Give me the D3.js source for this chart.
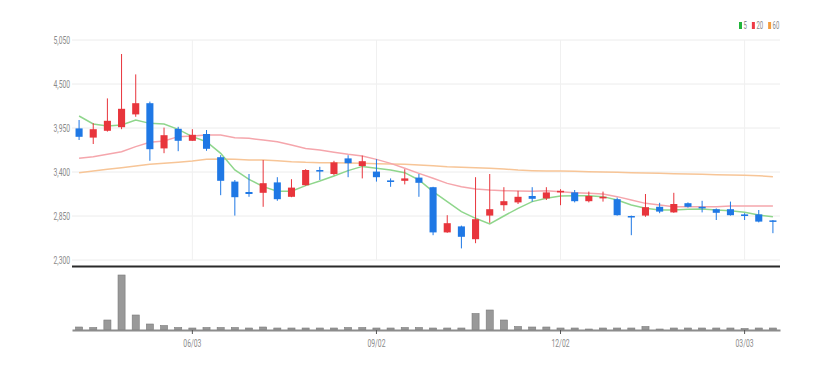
<!DOCTYPE html>
<html>
<head>
<meta charset="utf-8">
<script src="https://cdn.jsdelivr.net/npm/d3@7"></script>
<style>
body { margin: 0; background: #fff; }
#chart1 text { font-family: Roboto, sans-serif; }
</style>
</head>
<body>
<div id="chart1"></div>
<script>
var w = 834, h = 371;
var left = 72, right = 780;
var priceTop = 40, priceBottom = 260;
var volTop = 270, volBottom = 330;
var squeeze = 0.62;

// weekly candles
var dates = ["2024-04-08","2024-04-15","2024-04-22","2024-04-29","2024-05-06","2024-05-13","2024-05-20","2024-05-27",
  "2024-06-03","2024-06-10","2024-06-17","2024-06-24","2024-07-01","2024-07-08","2024-07-15","2024-07-22","2024-07-29",
  "2024-08-05","2024-08-12","2024-08-19","2024-08-26","2024-09-02","2024-09-09","2024-09-16","2024-09-23","2024-09-30",
  "2024-10-07","2024-10-14","2024-10-21","2024-10-28","2024-11-04","2024-11-11","2024-11-18","2024-11-25","2024-12-02",
  "2024-12-09","2024-12-16","2024-12-23","2024-12-30","2025-01-06","2025-01-13","2025-01-20","2025-01-27","2025-02-03",
  "2025-02-10","2025-02-17","2025-02-24","2025-03-03","2025-03-10","2025-03-17"];

var openP = [3945,3830,3915,3960,4120,4260,3695,3940,3790,3875,3585,3280,3150,3140,3270,3090,3235,3425,3375,3570,
  3475,3405,3295,3290,3330,3210,2645,2720,2560,2855,2985,3020,3100,3070,3145,3145,3035,3070,3060,2850,
  2855,2965,2895,3010,2965,2935,2935,2870,2870,2795];
var highP = [4050,4010,4320,4875,4620,4280,3955,3965,3935,3925,3610,3300,3375,3550,3335,3310,3435,3465,3540,3610,
  3605,3560,3320,3435,3375,3215,2860,2730,3335,3375,3210,3165,3210,3210,3185,3175,3155,3155,3080,2855,
  3125,3015,3140,3020,3040,2945,3030,2885,2925,2800];
var lowP = [3800,3750,3905,3935,4090,3540,3635,3660,3790,3665,3110,2855,3090,2965,3040,3085,3230,3300,3360,3335,
  3320,3280,3215,3245,3090,2610,2640,2445,2510,2765,2915,3000,3030,3050,2985,3020,3020,3030,2855,2610,
  2840,2885,2890,2955,2895,2800,2855,2800,2770,2635];
var closeP = [3840,3935,4040,4190,4260,3685,3860,3790,3865,3690,3290,3085,3125,3260,3060,3205,3425,3405,3520,3510,
  3535,3335,3275,3320,3265,2645,2760,2590,2810,2935,3035,3090,3065,3145,3165,3035,3100,3090,2860,2835,
  2960,2905,3000,2965,2945,2890,2860,2850,2780,2780];
var volume = [300,250,1000,5500,1500,600,450,250,200,250,250,250,200,300,200,200,200,200,200,250,
  250,200,200,250,250,200,200,200,1650,2000,1000,350,300,300,200,200,100,200,200,200,
  350,100,200,200,200,200,200,150,200,200];

var ma5 = [4100,4000,3975,3987,4050,4008,4000,3933,3842,3779,3633,3425,3308,3217,3160,3160,3230,3287,3350,3417,
  3470,3446,3425,3392,3300,3154,3029,2904,2821,2750,2850,2946,3030,3071,3100,3104,3104,3092,3050,2987,
  2946,2925,2925,2933,2937,2925,2917,2896,2862,2842];
var ma20 = [3571,3592,3621,3654,3717,3771,3787,3842,3850,3862,3862,3829,3821,3800,3779,3737,3695,3675,3646,3621,
  3600,3558,3508,3446,3383,3321,3258,3217,3187,3175,3167,3162,3160,3167,3154,3142,3133,3125,3092,3050,
  3008,2987,2967,2967,2967,2967,2975,2975,2975,2975];
var ma60 = [3392,3412,3433,3454,3475,3496,3508,3521,3537,3558,3562,3558,3550,3550,3542,3529,3521,3517,3515,3512,
  3508,3504,3500,3496,3487,3479,3467,3460,3454,3446,3437,3425,3417,3412,3412,3408,3404,3400,3396,3392,
  3387,3383,3379,3375,3371,3367,3362,3358,3354,3342];

var tickDates = ["2024-06-03","2024-09-02","2024-12-02","2025-03-03"];
var tickLabels = ["06/03","09/02","12/02","03/03"];
var priceTicks = [2300,2850,3400,3950,4500,5050];
var maNames = ["5","20","60"];
var maColors = ["#8fd68c","#f5a6ac","#f7c597"];
var legendColors = ["#22b53b","#ee3a45","#f39c3c"];

var upColor = "#e8353c", downColor = "#1f78e5";

draw();

function draw() {
  var svg = d3.select("#chart1").append("svg").attr("width", w).attr("height", h);

  var x = d3.scaleBand().domain(dates).range([left, right]).paddingInner(0.5).paddingOuter(0.25);
  var y = d3.scaleLinear().domain([2300, 5050]).range([priceBottom, priceTop]);
  var yv = d3.scaleLinear().domain([0, 6000]).range([volBottom, volTop]);
  var bw = x.bandwidth();
  var cx = function (d) { return x(d) + bw / 2; };

  // grid
  svg.append("g").selectAll("line").data(priceTicks).enter().append("line")
    .attr("x1", left).attr("x2", right).attr("y1", y).attr("y2", y)
    .attr("stroke", "#ececec").attr("stroke-width", 1);
  svg.append("g").selectAll("line").data(tickDates).enter().append("line")
    .attr("x1", cx).attr("x2", cx).attr("y1", priceTop).attr("y2", priceBottom)
    .attr("stroke", "#f0f0f0").attr("stroke-width", 1);

  // y axis
  var ya = svg.append("g").attr("transform", "translate(" + left + ",0)")
    .call(d3.axisLeft(y).tickValues(priceTicks).tickFormat(d3.format(",")).tickSize(0).tickPadding(3));
  ya.select(".domain").remove();
  ya.selectAll("text").attr("fill", "#8a8a8a").style("font-size", "11px")
    .attr("transform", "scale(" + squeeze + ",1)");

  // moving averages
  var series = [ma5, ma20, ma60];
  var line = d3.line().x(function (d, i) { return cx(dates[i]); }).y(function (d) { return y(d); });
  svg.append("g").selectAll("path").data(series.slice().reverse()).enter().append("path")
    .attr("d", line).attr("fill", "none")
    .attr("stroke", function (d, i) { return maColors[2 - i]; }).attr("stroke-width", 1.5);

  // candles
  var idx = d3.range(dates.length);
  var candles = svg.append("g").selectAll("g").data(idx).enter().append("g");
  var col = function (i) { return closeP[i] >= openP[i] ? upColor : downColor; };
  candles.append("line")
    .attr("x1", function (i) { return cx(dates[i]); }).attr("x2", function (i) { return cx(dates[i]); })
    .attr("y1", function (i) { return y(highP[i]); }).attr("y2", function (i) { return y(lowP[i]); })
    .attr("stroke", col).attr("stroke-width", 1);
  candles.append("rect")
    .attr("x", function (i) { return x(dates[i]); }).attr("width", bw)
    .attr("y", function (i) { return y(Math.max(openP[i], closeP[i])); })
    .attr("height", function (i) { return Math.max(1.5, Math.abs(y(openP[i]) - y(closeP[i]))); })
    .attr("fill", col);

  // separator
  svg.append("line").attr("x1", left).attr("x2", right).attr("y1", 266.5).attr("y2", 266.5)
    .attr("stroke", "#2a2a2a").attr("stroke-width", 2);

  // volume
  svg.append("g").selectAll("rect").data(idx).enter().append("rect")
    .attr("x", function (i) { return x(dates[i]); }).attr("width", bw)
    .attr("y", function (i) { return yv(volume[i]); })
    .attr("height", function (i) { return volBottom - yv(volume[i]); })
    .attr("fill", "#999").attr("stroke", "#7a7a7a").attr("stroke-width", 0.6);

  var xa = svg.append("g").attr("transform", "translate(0," + volBottom + ")")
    .call(d3.axisBottom(x).tickValues(tickDates)
      .tickFormat(function (d) { return tickLabels[tickDates.indexOf(d)]; })
      .tickSize(4).tickSizeOuter(0).tickPadding(5));
  xa.select(".domain").attr("stroke", "#8c8c8c").attr("stroke-width", 2);
  xa.selectAll(".tick line").attr("stroke", "#555");
  xa.selectAll("text").attr("fill", "#8a8a8a").style("font-size", "11px")
    .attr("transform", "scale(" + squeeze + ",1)");

  // legend
  var lx = 739;
  var legend = svg.append("g");
  maNames.forEach(function (name, i) {
    legend.append("rect").attr("x", lx).attr("y", 22).attr("width", 3).attr("height", 7)
      .attr("fill", legendColors[i]);
    lx += 4.5;
    var t = legend.append("text").attr("x", 0).attr("y", 29)
      .attr("transform", "translate(" + lx + ",0) scale(0.6,1)")
      .attr("fill", "#8a8a8a").style("font-size", "10px").text(name);
    lx += t.node().getComputedTextLength() * 0.6 + 5;
  });
}
</script>
</body>
</html>
